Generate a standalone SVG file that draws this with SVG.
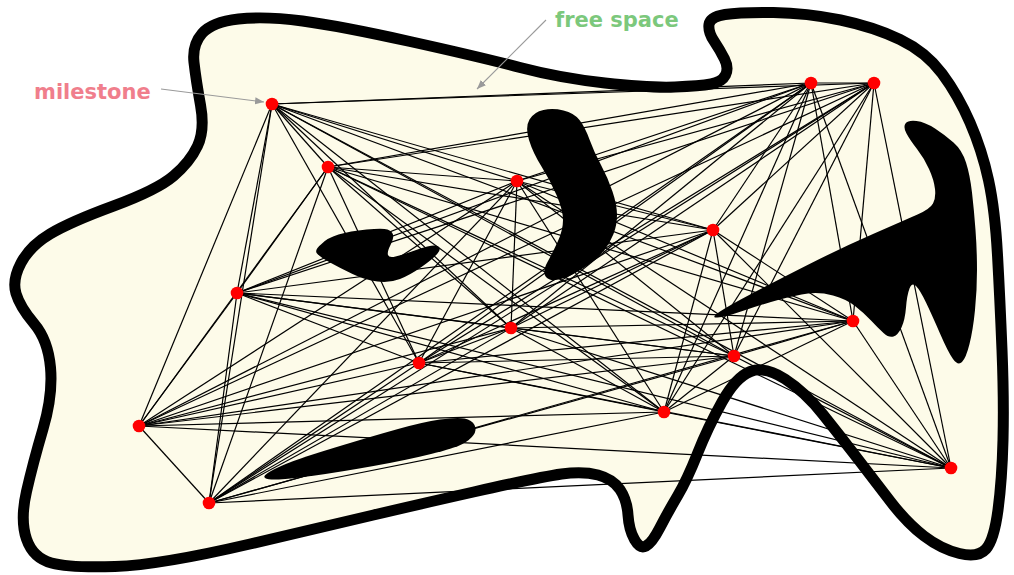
<svg xmlns="http://www.w3.org/2000/svg" width="1014" height="575" viewBox="0 0 1014 575">
  <defs>
    <marker id="arrow" viewBox="0 0 10 10" refX="10" refY="5" markerWidth="9" markerHeight="9" markerUnits="userSpaceOnUse" orient="auto">
      <path d="M0,1 L10,5 L0,9 Z" fill="#9a9a9a"/>
    </marker>
  </defs>
  <style>
    .free { fill: #fdfbe9; stroke: #000; stroke-width: 11; stroke-linejoin: round; }
    .obstacle { fill: #000; stroke: none; }
    .e { stroke: #000; stroke-width: 1.2; }
    .milestone { fill: #ff0000; }
    .pointer { stroke: #9a9a9a; stroke-width: 1.1; fill: none; marker-end: url(#arrow); }
    .label { font-family: "DejaVu Sans", "Liberation Sans", sans-serif; font-weight: bold; font-size: 21px; }
  </style>

  <rect width="1014" height="575" fill="#ffffff"/>

  <!-- free space region -->
  <g id="free-space">
    <path class="free" d="M238.5,19 Q265,16 302.5,21 Q340,26 410,41.5 Q480,57 520,67.5 Q560,78 605,83 Q650,88 675,87 Q700,86 711,84 Q722,82 725.5,75 Q729,68 724.5,59 Q720,50 714,41 Q708,32 709,24.5 Q710,17 725,14.5 Q740,12 773.5,12.5 Q807,13 840.5,20 Q874,27 900,39.5 Q926,52 942,73.5 Q958,95 970,122.5 Q982,150 988.5,180 Q995,210 997.5,255 Q1000,300 1002,350 Q1004,400 1003,440 Q1002,480 998,510 Q994,540 986,549 Q978,558 959.5,553.5 Q941,549 924,536 Q907,523 890.5,501.5 Q874,480 857.5,458.5 Q841,437 823,414.5 Q805,392 785,379 Q765,366 750.5,371.5 Q736,377 722,402 Q708,427 697.5,453.5 Q687,480 677.5,496 Q668,512 660,527.5 Q652,543 646,546 Q640,549 634.5,539.5 Q629,530 628,515 Q627,500 620,489.5 Q613,479 598,475 Q583,471 561.5,474 Q540,477 473.5,492 Q407,507 373.5,515 Q340,523 250,544 Q160,565 115,566.5 Q70,568 51.5,563 Q33,558 26.5,539 Q20,520 26.5,491.5 Q33,463 43,429 Q53,395 50.5,367.5 Q48,340 34,323.5 Q20,307 16,293.5 Q12,280 21,263 Q30,246 50,234 Q70,222 113.5,206 Q157,190 173.5,176 Q190,162 197.5,146 Q205,130 200.5,105 Q196,80 194,62.5 Q192,45 202,33.5 Q212,22 238.5,19 Z"/>
  </g>

  <!-- roadmap edges between milestones -->
  <g id="connectors">
    <line class="e" x1="272" y1="104" x2="328" y2="167"/>
    <line class="e" x1="272" y1="104" x2="517" y2="181"/>
    <line class="e" x1="272" y1="104" x2="811" y2="83"/>
    <line class="e" x1="272" y1="104" x2="874" y2="83"/>
    <line class="e" x1="272" y1="104" x2="713" y2="230"/>
    <line class="e" x1="272" y1="104" x2="237" y2="293"/>
    <line class="e" x1="272" y1="104" x2="511" y2="328"/>
    <line class="e" x1="272" y1="104" x2="419" y2="363"/>
    <line class="e" x1="272" y1="104" x2="853" y2="321"/>
    <line class="e" x1="272" y1="104" x2="734" y2="356"/>
    <line class="e" x1="272" y1="104" x2="139" y2="426"/>
    <line class="e" x1="272" y1="104" x2="664" y2="412"/>
    <line class="e" x1="272" y1="104" x2="951" y2="468"/>
    <line class="e" x1="272" y1="104" x2="209" y2="503"/>

    <line class="e" x1="328" y1="167" x2="517" y2="181"/>
    <line class="e" x1="328" y1="167" x2="811" y2="83"/>
    <line class="e" x1="328" y1="167" x2="874" y2="83"/>
    <line class="e" x1="328" y1="167" x2="713" y2="230"/>
    <line class="e" x1="328" y1="167" x2="237" y2="293"/>
    <line class="e" x1="328" y1="167" x2="511" y2="328"/>
    <line class="e" x1="328" y1="167" x2="419" y2="363"/>
    <line class="e" x1="328" y1="167" x2="853" y2="321"/>
    <line class="e" x1="328" y1="167" x2="734" y2="356"/>
    <line class="e" x1="328" y1="167" x2="139" y2="426"/>
    <line class="e" x1="328" y1="167" x2="664" y2="412"/>
    <line class="e" x1="328" y1="167" x2="951" y2="468"/>
    <line class="e" x1="328" y1="167" x2="209" y2="503"/>

    <line class="e" x1="517" y1="181" x2="811" y2="83"/>
    <line class="e" x1="517" y1="181" x2="874" y2="83"/>
    <line class="e" x1="517" y1="181" x2="713" y2="230"/>
    <line class="e" x1="517" y1="181" x2="237" y2="293"/>
    <line class="e" x1="517" y1="181" x2="511" y2="328"/>
    <line class="e" x1="517" y1="181" x2="419" y2="363"/>
    <line class="e" x1="517" y1="181" x2="853" y2="321"/>
    <line class="e" x1="517" y1="181" x2="734" y2="356"/>
    <line class="e" x1="517" y1="181" x2="139" y2="426"/>
    <line class="e" x1="517" y1="181" x2="664" y2="412"/>
    <line class="e" x1="517" y1="181" x2="951" y2="468"/>
    <line class="e" x1="517" y1="181" x2="209" y2="503"/>

    <line class="e" x1="811" y1="83" x2="874" y2="83"/>
    <line class="e" x1="811" y1="83" x2="713" y2="230"/>
    <line class="e" x1="811" y1="83" x2="237" y2="293"/>
    <line class="e" x1="811" y1="83" x2="511" y2="328"/>
    <line class="e" x1="811" y1="83" x2="419" y2="363"/>
    <line class="e" x1="811" y1="83" x2="853" y2="321"/>
    <line class="e" x1="811" y1="83" x2="734" y2="356"/>
    <line class="e" x1="811" y1="83" x2="139" y2="426"/>
    <line class="e" x1="811" y1="83" x2="664" y2="412"/>
    <line class="e" x1="811" y1="83" x2="951" y2="468"/>
    <line class="e" x1="811" y1="83" x2="209" y2="503"/>

    <line class="e" x1="874" y1="83" x2="713" y2="230"/>
    <line class="e" x1="874" y1="83" x2="237" y2="293"/>
    <line class="e" x1="874" y1="83" x2="511" y2="328"/>
    <line class="e" x1="874" y1="83" x2="419" y2="363"/>
    <line class="e" x1="874" y1="83" x2="853" y2="321"/>
    <line class="e" x1="874" y1="83" x2="734" y2="356"/>
    <line class="e" x1="874" y1="83" x2="139" y2="426"/>
    <line class="e" x1="874" y1="83" x2="664" y2="412"/>
    <line class="e" x1="874" y1="83" x2="951" y2="468"/>
    <line class="e" x1="874" y1="83" x2="209" y2="503"/>

    <line class="e" x1="713" y1="230" x2="237" y2="293"/>
    <line class="e" x1="713" y1="230" x2="511" y2="328"/>
    <line class="e" x1="713" y1="230" x2="419" y2="363"/>
    <line class="e" x1="713" y1="230" x2="853" y2="321"/>
    <line class="e" x1="713" y1="230" x2="734" y2="356"/>
    <line class="e" x1="713" y1="230" x2="139" y2="426"/>
    <line class="e" x1="713" y1="230" x2="664" y2="412"/>
    <line class="e" x1="713" y1="230" x2="951" y2="468"/>
    <line class="e" x1="713" y1="230" x2="209" y2="503"/>

    <line class="e" x1="237" y1="293" x2="511" y2="328"/>
    <line class="e" x1="237" y1="293" x2="419" y2="363"/>
    <line class="e" x1="237" y1="293" x2="853" y2="321"/>
    <line class="e" x1="237" y1="293" x2="734" y2="356"/>
    <line class="e" x1="237" y1="293" x2="139" y2="426"/>
    <line class="e" x1="237" y1="293" x2="664" y2="412"/>
    <line class="e" x1="237" y1="293" x2="951" y2="468"/>
    <line class="e" x1="237" y1="293" x2="209" y2="503"/>

    <line class="e" x1="511" y1="328" x2="419" y2="363"/>
    <line class="e" x1="511" y1="328" x2="853" y2="321"/>
    <line class="e" x1="511" y1="328" x2="734" y2="356"/>
    <line class="e" x1="511" y1="328" x2="139" y2="426"/>
    <line class="e" x1="511" y1="328" x2="664" y2="412"/>
    <line class="e" x1="511" y1="328" x2="951" y2="468"/>
    <line class="e" x1="511" y1="328" x2="209" y2="503"/>

    <line class="e" x1="419" y1="363" x2="853" y2="321"/>
    <line class="e" x1="419" y1="363" x2="734" y2="356"/>
    <line class="e" x1="419" y1="363" x2="139" y2="426"/>
    <line class="e" x1="419" y1="363" x2="664" y2="412"/>
    <line class="e" x1="419" y1="363" x2="951" y2="468"/>
    <line class="e" x1="419" y1="363" x2="209" y2="503"/>

    <line class="e" x1="853" y1="321" x2="734" y2="356"/>
    <line class="e" x1="853" y1="321" x2="139" y2="426"/>
    <line class="e" x1="853" y1="321" x2="664" y2="412"/>
    <line class="e" x1="853" y1="321" x2="951" y2="468"/>
    <line class="e" x1="853" y1="321" x2="209" y2="503"/>

    <line class="e" x1="734" y1="356" x2="139" y2="426"/>
    <line class="e" x1="734" y1="356" x2="664" y2="412"/>
    <line class="e" x1="734" y1="356" x2="951" y2="468"/>
    <line class="e" x1="734" y1="356" x2="209" y2="503"/>

    <line class="e" x1="139" y1="426" x2="664" y2="412"/>
    <line class="e" x1="139" y1="426" x2="951" y2="468"/>
    <line class="e" x1="139" y1="426" x2="209" y2="503"/>

    <line class="e" x1="664" y1="412" x2="951" y2="468"/>
    <line class="e" x1="664" y1="412" x2="209" y2="503"/>

    <line class="e" x1="951" y1="468" x2="209" y2="503"/>
  </g>

  <!-- obstacles -->
  <g id="obstacle-kidney">
    <path class="obstacle" d="M317,253.5 Q314,250 321.5,244 Q327,238 338.5,234.5 Q350,231 366.5,229.5 Q383,228 387.5,229.5 Q392,231 393,234.5 Q394,238 390.5,245 Q387,252 388,255 Q389,258 395.5,256.5 Q402,255 417.5,249.5 Q433,244 437.5,246 Q442,248 437.5,253.5 Q433,259 421.5,267 Q410,275 400,279 Q390,283 377.5,281.5 Q365,280 352.5,274 Q340,268 330,262.5 Q320,257 317,253.5 Z"/>
  </g>
  <g id="obstacle-crescent">
    <path class="obstacle" d="M543.5,110 Q553,108 563.5,110.5 Q574,113 579.5,120 Q585,127 589.5,139.5 Q594,152 601,165 Q608,178 612.5,191.5 Q617,205 617,215 Q617,225 613.5,234 Q610,243 604,250.5 Q598,258 585,267 Q572,276 561,279 Q550,282 546,277 Q542,272 547.5,262 Q553,252 558,241 Q563,230 563,220 Q563,210 556.5,195 Q550,180 541.5,166.5 Q533,153 529,140 Q525,127 529.5,119.5 Q534,112 543.5,110 Z"/>
  </g>
  <g id="obstacle-spike">
    <path class="obstacle" d="M905.5,123.5 Q908,120 916.5,121 Q925,122 935,128.5 Q945,135 953.5,142.5 Q962,150 966,162.5 Q970,175 972,192.5 Q974,210 975.5,230 Q977,250 977,270 Q977,290 975,310 Q973,330 969.5,344 Q966,358 962,362 Q958,366 953,359 Q948,352 940,333.5 Q932,315 926,302.5 Q920,290 916,286 Q912,282 909.5,288.5 Q907,295 906,307.5 Q905,320 901.5,327.5 Q898,335 893.5,336.5 Q889,338 883.5,333 Q878,328 871,320.5 Q864,313 855,306 Q846,299 833,295.5 Q820,292 808,293.5 Q796,295 778,300 Q760,305 742.5,311 Q725,317 717.5,317.5 Q710,318 720,311.5 Q730,305 752,293.5 Q774,282 807.5,265 Q841,248 873,234 Q905,220 917.5,214.5 Q930,209 933,203.5 Q936,198 935,189 Q934,180 929,169 Q924,158 917,149 Q910,140 906.5,133.5 Q903,127 905.5,123.5 Z"/>
  </g>
  <g id="obstacle-ellipse">
    <path class="obstacle" d="M265,478 Q262,476 271,471 Q280,466 293.5,461 Q307,456 340,446 Q373,436 398,429 Q423,422 440,419.5 Q457,417 464.5,418.5 Q472,420 474.5,425 Q477,430 473.5,435 Q470,440 462.5,444 Q455,448 431,454 Q407,460 373.5,466 Q340,472 315,475.5 Q290,479 279,479.5 Q268,480 265,478 Z"/>
  </g>

  <!-- milestones -->
  <g id="node-a"><circle class="milestone" cx="272" cy="104" r="6.3"/></g>
  <g id="node-b"><circle class="milestone" cx="328" cy="167" r="6.3"/></g>
  <g id="node-c"><circle class="milestone" cx="517" cy="181" r="6.3"/></g>
  <g id="node-d"><circle class="milestone" cx="811" cy="83" r="6.3"/></g>
  <g id="node-e"><circle class="milestone" cx="874" cy="83" r="6.3"/></g>
  <g id="node-f"><circle class="milestone" cx="713" cy="230" r="6.3"/></g>
  <g id="node-g"><circle class="milestone" cx="237" cy="293" r="6.3"/></g>
  <g id="node-h"><circle class="milestone" cx="511" cy="328" r="6.3"/></g>
  <g id="node-i"><circle class="milestone" cx="419" cy="363" r="6.3"/></g>
  <g id="node-j"><circle class="milestone" cx="853" cy="321" r="6.3"/></g>
  <g id="node-k"><circle class="milestone" cx="734" cy="356" r="6.3"/></g>
  <g id="node-l"><circle class="milestone" cx="139" cy="426" r="6.3"/></g>
  <g id="node-m"><circle class="milestone" cx="664" cy="412" r="6.3"/></g>
  <g id="node-n"><circle class="milestone" cx="951" cy="468" r="6.3"/></g>
  <g id="node-o"><circle class="milestone" cx="209" cy="503" r="6.3"/></g>

  <!-- annotations -->
  <g id="label-milestone">
    <text class="label" x="34" y="99" fill="#f07e8c">milestone</text>
    <line class="pointer" x1="161" y1="89" x2="264" y2="102"/>
  </g>
  <g id="label-free-space">
    <text class="label" x="555" y="27" fill="#7cc87c">free space</text>
    <line class="pointer" x1="546" y1="20" x2="477" y2="89"/>
  </g>
</svg>
